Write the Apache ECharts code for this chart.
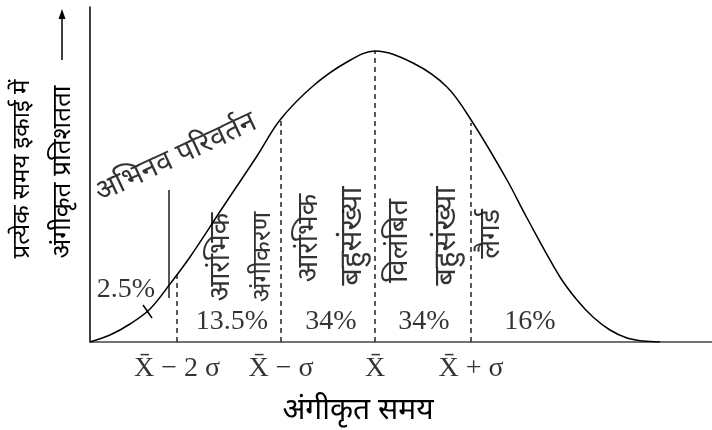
<!DOCTYPE html>
<html>
<head>
<meta charset="utf-8">
<script src="https://cdn.jsdelivr.net/npm/echarts@6/dist/echarts.min.js"></script>
<style>html,body{margin:0;padding:0;background:#fff}#c{width:712px;height:430px}</style>
</head>
<body>
<div id="c"></div>
<script>
// Adoption curve (time on x, % adopting per unit time on y), arbitrary units
const curveX = [0, 20, 40, 60, 80, 100, 133, 167, 190, 223, 257, 285, 323, 357, 383, 417, 437, 470, 487, 503, 520, 537, 553, 570];
const curveY = [0, 7, 18, 33, 58, 85, 135, 186, 222, 256, 280, 291, 279, 255, 219, 162, 124, 65, 42, 25, 12, 4, 1, 0];

// Boundaries (mean ± sigma) and their tick labels
const boundaryLabels = ['X\u0304 \u2212 2 \u03c3', 'X\u0304 \u2212 \u03c3', 'X\u0304', 'X\u0304 + \u03c3'];
const boundaryX = [87, 191, 285, 381];
const boundaryTop = [70, 222, 291, 219];

// Share of adopters in each segment
const shareLabels = ['2.5%', '13.5%', '34%', '34%', '16%'];
// Adopter category names
const groupLabels = ['आरंभिक', 'अंगीकरण', 'आरंभिक', 'बहुसंख्या', 'विलंबित', 'बहुसंख्या', 'लैगर्ड'];
const innovatorLabel = 'अभिनव परिवर्तन';

// ---- annotation anchors / sizes (layout) ----
const shareAnchor = [[36, 52], [142, 20], [241, 20], [334, 20], [440, 20]];
const groupAnchor = [[134, 85], [175, 85], [222, 104], [265, 106], [312, 101], [359, 106], [404, 108]];
const groupFont = [28, 26, 28, 31, 29, 31, 28];
const innovatorAnchor = [87, 182];
const innovatorBar = [[79, 44], [79, 152]];
const innovatorTick = [[53, 37], [62, 24]];

const serif = '"Liberation Serif", "Times New Roman", serif';
const deva = '"Noto Sans Devanagari", "Lohit Devanagari", "Noto Sans", sans-serif';

const chart = echarts.init(document.getElementById('c'));
const series = [];

series.push({
  type: 'line', data: curveX.map((x, i) => [x, curveY[i]]), smooth: 0.35,
  symbol: 'none', lineStyle: { color: '#000', width: 1.5 }, z: 5, silent: true
});
boundaryX.forEach((x, i) => {
  series.push({
    type: 'line', data: [[x, 0], [x, boundaryTop[i]]], symbol: 'none',
    lineStyle: { color: '#222', width: 1.5, type: [5, 4] }, silent: true
  });
});
series.push({
  type: 'line', data: innovatorBar, symbol: 'none',
  lineStyle: { color: '#555', width: 2 }, silent: true
});
series.push({
  type: 'line', data: innovatorTick, symbol: 'none',
  lineStyle: { color: '#000', width: 1.5 }, silent: true
});
// tick labels
series.push({
  type: 'scatter', symbolSize: 0, silent: true,
  data: boundaryX.map((x, i) => ({ value: [x, 0], name: boundaryLabels[i] })),
  label: { show: true, position: 'bottom', distance: 13, formatter: p => p.name,
    fontFamily: serif, fontSize: 28, color: '#000' }
});
// share labels
series.push({
  type: 'scatter', symbolSize: 0, silent: true,
  data: shareAnchor.map((a, i) => ({ value: a, name: shareLabels[i] })),
  label: { show: true, position: 'inside', formatter: p => p.name,
    fontFamily: serif, fontSize: 28, color: '#000' }
});
// group labels
series.push({
  type: 'scatter', symbolSize: 0, silent: true,
  data: groupAnchor.map((a, i) => ({ value: a, name: groupLabels[i],
    label: { fontSize: groupFont[i] } })),
  label: { show: true, position: 'inside', rotate: 90, formatter: p => p.name,
    fontFamily: deva, fontSize: 28, color: '#000' }
});
series.push({
  type: 'scatter', symbolSize: 0, silent: true,
  data: [{ value: innovatorAnchor, name: innovatorLabel }],
  label: { show: true, position: 'inside', rotate: 25, formatter: p => p.name,
    fontFamily: deva, fontSize: 29, color: '#000' }
});

chart.setOption({
  animation: false,
  grid: { left: 90, right: 0, top: 7, bottom: 88 },
  xAxis: { type: 'value', min: 0, max: 622, axisLine: { show: true, lineStyle: { color: '#444', width: 1.5 } },
    axisTick: { show: false }, axisLabel: { show: false }, splitLine: { show: false } },
  yAxis: { type: 'value', min: 0, max: 335, axisLine: { show: true, lineStyle: { color: '#000', width: 1.5 } },
    axisTick: { show: false }, axisLabel: { show: false }, splitLine: { show: false } },
  graphic: [
    { type: 'text', x: 25, y: 169, rotation: Math.PI / 2,
      style: { text: 'प्रत्येक समय इकाई में', fontSize: 24, fontFamily: deva, fill: '#000', align: 'center', verticalAlign: 'middle' } },
    { type: 'text', x: 65, y: 172, rotation: Math.PI / 2,
      style: { text: 'अंगीकृत प्रतिशतता', fontSize: 26, fontFamily: deva, fill: '#000', align: 'center', verticalAlign: 'middle' } },
    { type: 'line', shape: { x1: 62, y1: 60, x2: 62, y2: 14 }, style: { stroke: '#000', lineWidth: 1.5 } },
    { type: 'polygon', shape: { points: [[62, 9], [58.5, 19], [65.5, 19]] }, style: { fill: '#000' } },
    { type: 'text', x: 358, y: 413,
      style: { text: 'अंगीकृत समय', fontSize: 30, fontFamily: deva, fill: '#000', align: 'center', verticalAlign: 'middle' } }
  ],
  series: series
});
</script>
</body>
</html>
